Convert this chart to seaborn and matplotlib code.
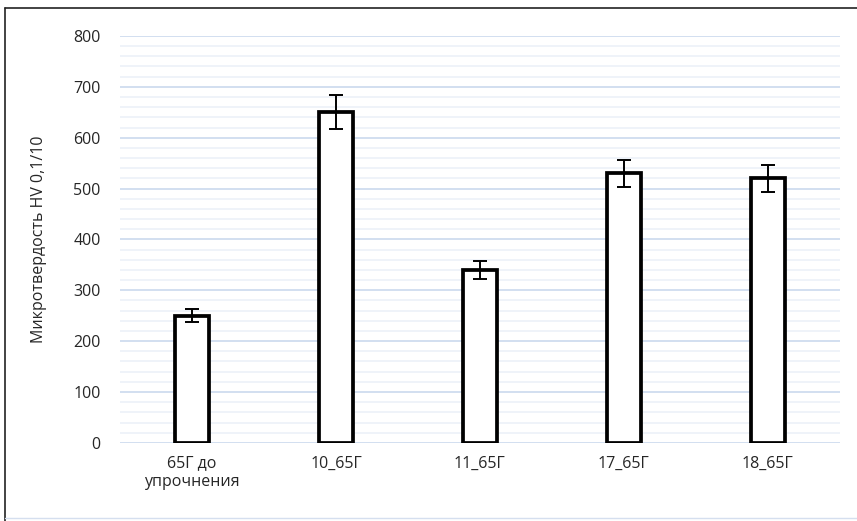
import matplotlib
matplotlib.use("Agg")
import matplotlib.pyplot as plt
from matplotlib.lines import Line2D
from matplotlib.ticker import MultipleLocator
import pandas as pd
import seaborn as sns

# hardness values
categories = ["65Г до\nупрочнения", "10_65Г", "11_65Г", "17_65Г", "18_65Г"]
hardness = [250, 650, 340, 530, 520]
errors = [13, 33, 17, 27, 26]

df = pd.DataFrame({"Образец": categories, "HV": hardness, "err": errors})

sns.set_theme(style="white")
plt.rcParams["font.family"] = ["Open Sans", "DejaVu Sans"]

fig = plt.figure(figsize=(8.57, 5.21), dpi=100)
ax = fig.add_axes([0.140, 0.150, 0.840, 0.781])

sns.barplot(data=df, x="Образец", y="HV", color="white", edgecolor="black",
            linewidth=2.7, width=0.24, errorbar=None, ax=ax, zorder=3)
ax.errorbar(df["Образец"], df["HV"], yerr=df["err"], fmt="none",
            ecolor="black", elinewidth=1.4, capsize=5, capthick=1.4, zorder=4)

ax.set_ylim(0, 800)
ax.set_xlim(-0.5, len(categories) - 0.5)
ax.yaxis.set_major_locator(MultipleLocator(100))
ax.yaxis.set_minor_locator(MultipleLocator(20))
ax.grid(axis="y", which="major", color="#CFDCEF", linewidth=1.3, zorder=0)
ax.grid(axis="y", which="minor", color="#EBF0F8", linewidth=1.1, zorder=0)
ax.set_axisbelow(True)
for s in ax.spines.values():
    s.set_visible(False)

ax.tick_params(axis="y", which="both", length=0, pad=14, labelsize=11.5, labelcolor="#262626")
ax.tick_params(axis="x", length=0, pad=9, labelsize=11.5, labelcolor="#262626")
ax.set_xlabel("")
ax.set_ylabel("Микротвердость HV 0,1/10", fontsize=11.5, color="#262626", labelpad=19)

# outer frame of the chart area
fig.add_artist(Line2D([0.006, 0.006], [0.0, 0.985], color="#222222", linewidth=1.2, transform=fig.transFigure))
fig.add_artist(Line2D([0.006, 1.0], [0.985, 0.985], color="#222222", linewidth=1.2, transform=fig.transFigure))
fig.add_artist(Line2D([0.006, 1.0], [0.006, 0.006], color="#D5DFEF", linewidth=1.0, transform=fig.transFigure))

fig.savefig("out.png", dpi=100, facecolor="white")
